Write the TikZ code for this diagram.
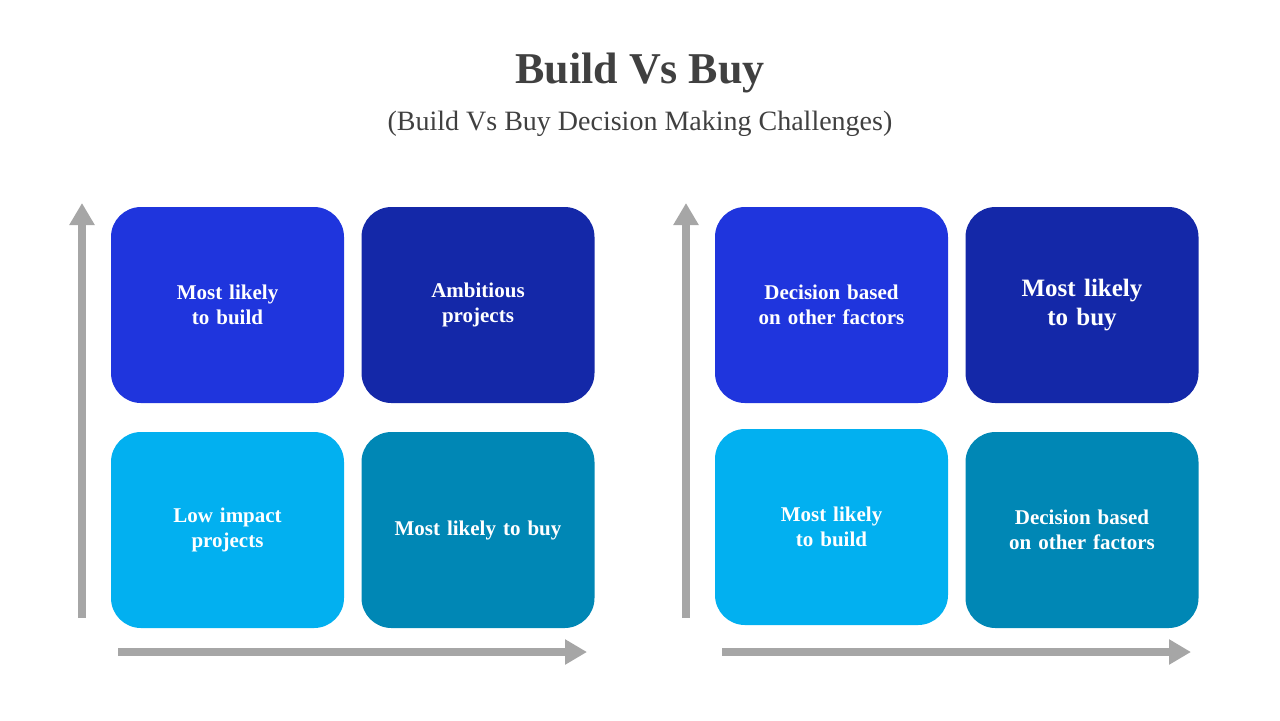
\documentclass[tikz,border=0pt]{standalone}
\usepackage{fontspec}
\setmainfont{Liberation Serif}
\usetikzlibrary{arrows.meta}
\definecolor{cA}{HTML}{1F35DD}
\definecolor{cB}{HTML}{1428A8}
\definecolor{cC}{HTML}{02B0F0}
\definecolor{cD}{HTML}{0087B5}
\definecolor{ax}{HTML}{A6A6A6}
\definecolor{tt}{HTML}{404040}
\tikzset{
 qbox/.style={rounded corners=15pt,minimum width=116.5pt,minimum height=98pt,text width=85pt,align=center,text=white,font=\bfseries\fontsize{10.5}{12.5}\selectfont,inner sep=0pt},
 axis/.style={ax,line width=4pt,-{Triangle[width=12pt,length=11pt]}}
}
\begin{document}
\begin{tikzpicture}[x=0.5pt,y=-0.5pt]
\useasboundingbox (0,0) rectangle (1280,720);
\node[text=tt,font=\bfseries\fontsize{22}{26}\selectfont] (title) at (640,73) {Build Vs Buy};
\node[text=tt,font=\fontsize{14}{17}\selectfont] (sub) at (640,124) {(Build Vs Buy Decision Making Challenges)};
% left
\node[qbox,fill=cA] (l1) at (227.5,305) {Most likely to build};
\node[qbox,fill=cB] (l2) at (478,305) {Ambitious projects};
\node[qbox,fill=cC] (l3) at (227.5,530) {Low impact projects};
\node[qbox,fill=cD] (l4) at (478,530) {Most likely to buy};
\coordinate (lv0) at (82,618); \coordinate (lv1) at (82,203);
\coordinate (lh0) at (118,652); \coordinate (lh1) at (587,652);
\draw[axis] (lv0) -- (lv1);
\draw[axis] (lh0) -- (lh1);
% right
\node[qbox,fill=cA] (r1) at (831.5,305) {Decision based on other factors};
\node[qbox,fill=cB,font=\bfseries\fontsize{12.5}{14.5}\selectfont] (r2) at (1082,305) {Most likely to buy};
\node[qbox,fill=cC,text width=60pt] (r3) at (831.5,527) {Most likely to build};
\node[qbox,fill=cD,text width=100pt] (r4) at (1082,530) {Decision based on other factors};
\coordinate (rv0) at (686,618); \coordinate (rv1) at (686,203);
\coordinate (rh0) at (722,652); \coordinate (rh1) at (1191,652);
\draw[axis] (rv0) -- (rv1);
\draw[axis] (rh0) -- (rh1);
\end{tikzpicture}
\end{document}
